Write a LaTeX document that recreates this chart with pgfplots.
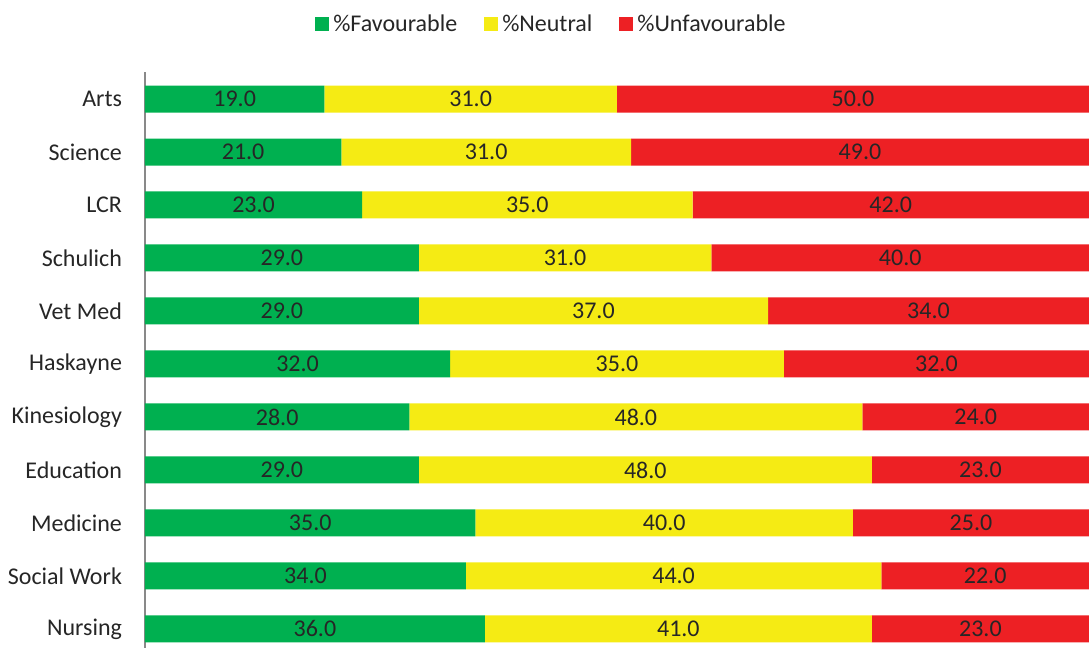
\documentclass[border=0pt]{standalone}
\usepackage{pgfplots}
\usepackage{pgfplotstable}
\pgfplotsset{compat=1.18}
\usepackage{fontspec}
\setmainfont{Carlito}

\definecolor{favgreen}{HTML}{00B050}
\definecolor{neuyellow}{HTML}{F5EB14}
\definecolor{unfred}{HTML}{ED2024}
\definecolor{labeltext}{HTML}{262626}
\definecolor{axisgray}{HTML}{898989}

% faculty survey shares, top bar (Arts) at y=10
\pgfplotstableread{
y  fav neu unf
10 19 31 50
9  21 31 49
8  23 35 42
7  29 31 40
6  29 37 34
5  32 35 32
4  28 48 24
3  29 48 23
2  35 40 25
1  34 44 22
0  36 41 23
}\faculty

\pgfplotsset{
  base/.style={
    scale only axis,
    width=472pt, height=288pt,
    xmin=0, xmax=100,
    ymin=-0.36, ymax=10.51,
  },
}

\begin{document}
\begin{tikzpicture}[font=\fontsize{12}{14.4}\selectfont]
\begin{axis}[
    base,
    xbar stacked,
    bar width=13.5pt,
    hide x axis,
    axis y line*=left,
    y axis line style={draw=axisgray, line width=1pt},
    ytick={0,...,10},
    yticklabels={Nursing, Social Work, Medicine, Education, Kinesiology,
                 Haskayne, Vet Med, Schulich, LCR, Science, Arts},
    major tick length=0pt,
    yticklabel style={xshift=-8pt, text=labeltext},
    legend columns=-1,
    legend image code/.code={\fill[#1] (0pt,-3.5pt) rectangle (7pt,3.5pt);},
    legend style={at={(0.18,1.083)}, anchor=west, draw=none, fill=none,
                  inner sep=0pt, text=labeltext,
                  /tikz/every even column/.append style={column sep=11.5pt}},
]
\addplot[fill=favgreen, draw=none]
  table[x expr=100*\thisrow{fav}/(\thisrow{fav}+\thisrow{neu}+\thisrow{unf}), y=y]{\faculty};
\addplot[fill=neuyellow, draw=none]
  table[x expr=100*\thisrow{neu}/(\thisrow{fav}+\thisrow{neu}+\thisrow{unf}), y=y]{\faculty};
\addplot[fill=unfred, draw=none]
  table[x expr=100*\thisrow{unf}/(\thisrow{fav}+\thisrow{neu}+\thisrow{unf}), y=y]{\faculty};
\legend{\%Favourable, \%Neutral, \%Unfavourable}
\coordinate (sw) at (rel axis cs:0,0);
\end{axis}

% labels centred in each segment
\begin{axis}[
    base,
    hide axis,
    point meta=explicit,
    nodes near coords={\pgfmathprintnumber[fixed, fixed zerofill, precision=1, assume math mode=true]{\pgfplotspointmeta}},
    nodes near coords style={anchor=center, text=labeltext},
]
\addplot[draw=none, mark=none]
  table[x expr=50*\thisrow{fav}/(\thisrow{fav}+\thisrow{neu}+\thisrow{unf}), y=y, meta=fav]{\faculty};
\addplot[draw=none, mark=none]
  table[x expr=100*(\thisrow{fav}+0.5*\thisrow{neu})/(\thisrow{fav}+\thisrow{neu}+\thisrow{unf}), y=y, meta=neu]{\faculty};
\addplot[draw=none, mark=none]
  table[x expr=100*(\thisrow{fav}+\thisrow{neu}+0.5*\thisrow{unf})/(\thisrow{fav}+\thisrow{neu}+\thisrow{unf}), y=y, meta=unf]{\faculty};
\end{axis}

\pgfresetboundingbox
\path (sw) ++(-72.5pt,0) rectangle ++(544.5pt,324pt);
\end{tikzpicture}
\end{document}
